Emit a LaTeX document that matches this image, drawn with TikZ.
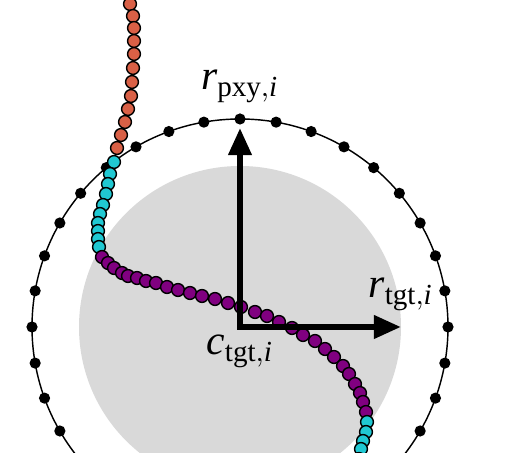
\documentclass[tikz,border=0pt]{standalone}
\usepackage{fontspec}
\setmainfont{Liberation Serif}
\usetikzlibrary{arrows.meta,calc,positioning}

\definecolor{beadorange}{RGB}{217,96,70}
\definecolor{beadcyan}{RGB}{32,200,210}
\definecolor{beadpurple}{RGB}{128,0,128}
\definecolor{tgtgrey}{RGB}{217,217,217}

\begin{document}
\begin{tikzpicture}[
	%	style def
    x=0.3125pt, y=-0.3125pt,
    bead/.style={draw=black, line width=0.45pt},
    ring line/.style={line width=0.45pt},
    axis arrow/.style={line width=1.9pt, line join=miter,
        {Triangle[length=8.5pt,width=7pt]}-{Triangle[length=8.5pt,width=7pt]}},
    every node/.style={color=black, font=\fontsize{13}{15}\selectfont}
    ]

    \useasboundingbox (0,0) rectangle (509,453);
    \clip (0,0) rectangle (509,453);

    % target region
    \coordinate (c) at (240,327);
    \fill[tgtgrey] (c) circle (161);

    % proxy ring and its sample points
    \draw[ring line] (c) circle (208);
    \foreach \a in {0,10,...,350}
        \fill[black] ($(c)+(\a:208)$) circle (5.6);

    % chain of beads
    \foreach \x/\y in {129/-9,130/4,133/16,134/28,134/41,134/54,133/68,132/82,
                       131/96,128/109,125/122,121/135,117/148}
        \filldraw[bead, fill=beadorange] (\x,\y) circle (6.4);
    \foreach \x/\y in {114/162,110/174,108/184,106/194,103/205,100/214,98/223,
                       98/231,98/239,99/247}
        \filldraw[bead, fill=beadcyan] (\x,\y) circle (6.4);
    \foreach \x/\y in {102/257,108/263,114/268,122/273,128/276,137/278,146/281,
                       156/283,167/287,178/290,190/293,202/296,215/299,228/303,
                       241/307,255/312,267/316,279/322,292/328,303/335,315/341,
                       325/349,334/357,343/366,349/374,355/384,360/393,363/402,
                       366/412}
        \filldraw[bead, fill=beadpurple] (\x,\y) circle (6.4);
    \foreach \x/\y in {367/422,366/432,363/441,361/449,359/459}
        \filldraw[bead, fill=beadcyan] (\x,\y) circle (6.4);

    % radii from the centre
    \coordinate (pxy) at (240,128);
    \coordinate (tgt) at (401,327);
    \draw[axis arrow] (pxy) -- (c) -- (tgt);

    % labels
    \node[anchor=base] (lpxy) at (240,90) {$\mathit{r}_{\mathrm{pxy},\mathit{i}}$};
    \node[anchor=base] (ltgt) at (401,298) {$\mathit{r}_{\mathrm{tgt},\mathit{i}}$};
    \node[anchor=base] (lc) at (240,355) {$\mathit{c}_{\mathrm{tgt},\mathit{i}}$};

\end{tikzpicture}
\end{document}
